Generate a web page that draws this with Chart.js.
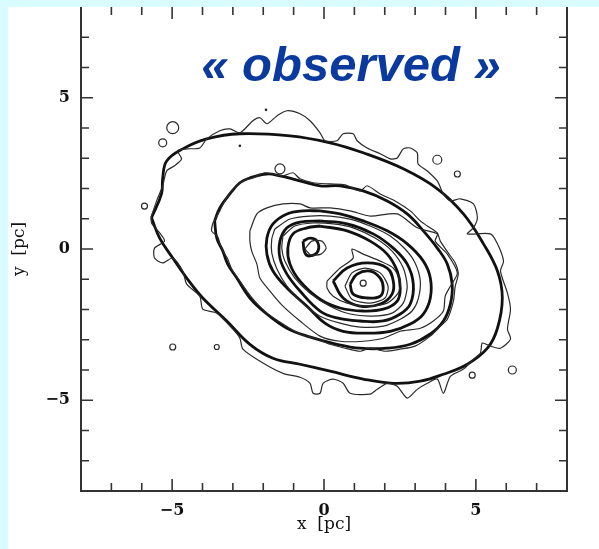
<!DOCTYPE html>
<html>
<head>
<meta charset="utf-8">
<script src="https://cdn.jsdelivr.net/npm/chart.js@4/dist/chart.umd.min.js"></script>
<style>
  html, body { margin: 0; padding: 0; background: #d8fcff; width: 599px; height: 549px; overflow: hidden; }
  #plot { position: absolute; left: 8px; top: 7px; background: #ffffff; }
</style>
</head>
<body>
<canvas id="plot" width="591" height="542"></canvas>
<script>
// tick positions and labels (pc)
const tickValues = [-5, 0, 5];
const minorTicks = [-7, -6, -5, -4, -3, -2, -1, 0, 1, 2, 3, 4, 5, 6, 7];
const titleText = '\u00ab observed \u00bb';

// model isophotes (thick), outermost first
const modelA = [[-5.68,1.03],[-5.41,0.36],[-4.98,-0.30],[-4.52,-0.96],[-3.99,-1.62],[-3.20,-2.38],[-2.44,-3.15],[-1.68,-3.61],
  [-0.79,-3.81],[0.20,-4.04],[1.29,-4.30],[2.28,-4.44],[3.17,-4.37],[3.93,-4.14],[4.72,-3.81],[5.38,-3.28],[5.71,-2.62],
  [5.87,-1.62],[5.71,-0.73],[5.25,0.17],[4.59,1.16],[3.73,1.99],[2.61,2.65],[1.29,3.18],[0.20,3.51],[-1.12,3.74],
  [-2.77,3.81],[-3.86,3.64],[-4.65,3.31],[-5.18,2.91],[-5.31,2.35],[-5.35,1.82]];
const modelB = [[-3.60,0.93],[-3.53,0.36],[-3.33,-0.07],[-3.17,-0.50],[-2.87,-0.96],[-2.44,-1.62],[-1.88,-2.15],[-1.22,-2.62],
  [-0.56,-2.88],[0.43,-3.15],[1.19,-3.28],[2.08,-3.28],[2.84,-3.15],[3.50,-2.81],[3.93,-2.38],[4.16,-1.82],[4.22,-1.16],
  [4.06,-0.50],[3.73,0.03],[3.27,0.60],[2.74,1.16],[2.08,1.59],[1.29,1.92],[0.53,2.09],[-0.13,2.09],[-0.89,2.28],
  [-1.45,2.42],[-1.88,2.48],[-2.44,2.35],[-2.77,2.19],[-3.10,1.82],[-3.43,1.36]];
const modelC = [[-0.13,1.26],[0.53,1.16],[1.29,0.93],[2.08,0.60],[2.74,0.17],[3.27,-0.40],[3.50,-0.96],[3.50,-1.62],
  [3.27,-2.15],[2.84,-2.48],[2.18,-2.72],[1.42,-2.78],[0.63,-2.72],[0.03,-2.45],[-0.56,-1.89],[-1.22,-1.29],[-1.68,-0.73],
  [-1.88,-0.17],[-1.88,0.36],[-1.68,0.83],[-1.22,1.16],[-0.69,1.26]];
const modelD = [[-0.13,0.93],[0.76,0.83],[1.62,0.50],[2.28,0.03],[2.74,-0.50],[2.94,-1.16],[2.84,-1.82],[2.51,-2.15],
  [1.95,-2.38],[1.19,-2.38],[0.43,-2.28],[-0.13,-2.05],[-0.79,-1.39],[-1.22,-0.83],[-1.45,-0.30],[-1.45,0.26],
  [-1.22,0.70],[-0.79,0.89]];
const modelE = [[-0.13,0.76],[0.76,0.60],[1.52,0.26],[2.08,-0.17],[2.41,-0.73],[2.51,-1.29],[2.41,-1.72],[1.95,-1.99],
  [1.29,-2.05],[0.53,-1.95],[-0.13,-1.66],[-0.79,-1.06],[-1.12,-0.50],[-1.19,0.03],[-1.02,0.50],[-0.56,0.70]];
const modelF = [[0.30,-1.06],[0.76,-0.63],[1.42,-0.46],[2.08,-0.63],[2.28,-1.06],[2.24,-1.49],[1.85,-1.82],[1.19,-1.89],[0.63,-1.62]];
const modelG = [[0.86,-1.16],[1.09,-0.83],[1.52,-0.73],[1.85,-0.96],[1.95,-1.29],[1.85,-1.56],[1.42,-1.62],[0.96,-1.49]];
const modelH = [[-0.69,0.26],[-0.46,0.36],[-0.23,0.26],[-0.20,-0.07],[-0.46,-0.23],[-0.63,-0.13]];

// observed isophotes (thin)
const obsA = [[-5.68,1.09],[-5.51,1.59],[-5.31,2.09],[-5.18,2.58],[-4.92,2.75],[-4.69,2.98],[-4.82,3.25],[-4.52,3.31],
  [-4.09,3.34],[-3.86,3.64],[-3.43,3.91],[-3.10,3.97],[-2.77,3.84],[-2.34,4.24],[-2.11,4.34],[-1.88,4.14],[-1.55,4.40],
  [-1.22,4.57],[-0.79,4.47],[-0.46,4.24],[-0.13,3.84],[0.03,3.58],[0.43,3.58],[0.63,3.81],[0.96,3.81],[1.09,3.58],
  [1.42,3.34],[1.85,3.15],[2.18,2.98],[2.41,3.01],[2.61,3.31],[2.84,3.34],[3.07,3.18],[3.10,2.81],[3.40,2.58],
  [3.73,2.25],[3.93,1.82],[4.16,1.59],[4.49,1.66],[4.92,1.49],[5.05,1.03],[4.92,0.70],[4.72,0.50],[5.48,0.50],
  [5.71,0.17],[5.91,-0.40],[5.81,-0.73],[6.04,-1.46],[6.14,-1.99],[6.04,-2.65],[6.14,-2.98],[5.81,-3.28],[5.48,-3.21],
  [5.21,-3.11],[5.15,-3.44],[4.92,-3.64],[4.59,-3.97],[4.16,-4.21],[3.93,-4.77],[3.73,-4.30],[3.40,-4.44],[3.07,-4.64],
  [2.74,-4.93],[2.41,-4.54],[2.08,-4.44],[1.75,-4.64],[1.52,-4.80],[0.86,-4.77],[0.63,-4.44],[0.30,-4.30],[-0.03,-4.44],
  [-0.13,-4.77],[-0.36,-4.77],[-0.46,-4.44],[-0.79,-4.24],[-1.35,-4.11],[-2.01,-3.77],[-2.67,-3.31],[-2.77,-2.95],
  [-3.00,-2.65],[-3.53,-2.12],[-3.99,-1.99],[-4.09,-1.56],[-4.52,-1.16],[-4.65,-0.73],[-4.98,-0.30],[-5.31,-0.46],
  [-5.58,-0.30],[-5.58,0.03],[-5.25,0.26],[-5.41,0.53],[-5.68,0.86]];
const obsB = [[-3.66,0.86],[-3.43,1.26],[-3.27,1.59],[-3.04,1.92],[-2.67,2.25],[-2.34,2.35],[-1.95,2.52],[-1.35,2.42],
  [-1.02,2.52],[-0.79,2.32],[-0.36,2.19],[0.20,2.15],[0.69,2.12],[1.19,1.92],[1.42,2.09],[1.85,1.82],[2.34,1.59],
  [2.84,1.26],[3.17,0.93],[3.40,0.76],[3.73,0.53],[3.83,0.26],[4.09,-0.13],[4.32,-0.46],[4.42,-0.83],[4.32,-1.23],
  [4.26,-1.72],[4.06,-2.32],[3.83,-2.55],[3.50,-2.88],[3.00,-3.21],[2.51,-3.31],[2.01,-3.38],[1.52,-3.28],[1.19,-3.38],
  [0.69,-3.28],[0.20,-3.15],[-0.30,-2.95],[-0.79,-2.81],[-1.35,-2.48],[-1.88,-2.12],[-2.28,-1.72],[-2.54,-1.39],
  [-2.77,-1.06],[-3.04,-0.66],[-3.17,-0.33],[-3.37,0.00],[-3.50,0.40],[-3.70,0.60]];
const obsC = [[-2.44,0.60],[-2.21,1.16],[-1.88,1.36],[-1.35,1.49],[-0.79,1.49],[-0.46,1.36],[0.20,1.36],[0.86,1.26],
  [1.52,1.09],[2.41,1.16],[3.07,0.70],[3.73,0.50],[3.66,0.26],[4.06,-0.17],[4.39,-0.79],[4.16,-1.23],[3.99,-1.56],
  [3.93,-2.05],[3.60,-2.38],[3.17,-2.62],[2.51,-2.72],[1.95,-2.95],[1.29,-3.05],[0.53,-3.05],[-0.13,-2.88],[-0.79,-2.38],
  [-1.35,-1.89],[-1.78,-1.39],[-2.11,-0.96],[-2.21,-0.50],[-2.38,-0.07],[-2.44,0.26]];
const obsD = [[-1.62,0.66],[-1.12,0.99],[-0.46,1.09],[0.20,1.09],[0.86,0.99],[1.52,0.76],[2.18,0.43],[2.67,0.00],
  [3.00,-0.46],[3.17,-1.06],[3.10,-1.66],[2.90,-2.05],[2.51,-2.32],[1.95,-2.55],[1.19,-2.58],[0.53,-2.45],[-0.13,-2.22],
  [-0.79,-1.72],[-1.22,-1.23],[-1.55,-0.66],[-1.72,-0.13],[-1.72,0.33]];
const obsE = [[-1.35,0.43],[-0.96,0.76],[-0.36,0.86],[0.30,0.83],[0.96,0.70],[1.68,0.36],[2.24,-0.07],[2.61,-0.63],
  [2.74,-1.23],[2.61,-1.79],[2.24,-2.12],[1.58,-2.22],[0.86,-2.15],[0.20,-1.89],[-0.46,-1.46],[-0.96,-0.96],[-1.29,-0.40],[-1.39,0.03]];
const obsF = [[0.10,-1.06],[0.53,-0.63],[0.96,-0.30],[0.92,0.00],[1.29,-0.17],[1.85,-0.40],[2.28,-0.63],[2.51,-1.06],
  [2.44,-1.46],[2.08,-1.79],[1.42,-1.89],[0.76,-1.79],[0.30,-1.56],[0.10,-1.29]];
const obsG = [[0.69,-1.23],[0.92,-0.79],[1.35,-0.63],[1.85,-0.79],[2.11,-1.23],[2.01,-1.62],[1.52,-1.79],[0.92,-1.66]];
const obsH = [[-0.63,0.00],[-0.40,0.26],[-0.07,0.26],[0.07,0.03],[-0.10,-0.17],[-0.43,-0.20]];

// small isolated contours: centre and radius (px)
const islandPos = [[-4.98,4.01],[-5.31,3.51],[-5.91,1.42],[-4.98,-3.24],[-3.53,-3.24],[3.73,2.95],[4.39,2.48],
  [4.88,-4.17],[6.20,-4.00],[-1.45,2.65],[1.29,-1.13]];
const islandSize = [6, 4, 3, 3, 2.5, 4.5, 3, 3, 4, 5, 3];
const specks = [[-1.91,4.60],[-2.77,3.41]];

function toPoints(arr, close) {
  var pts = arr.map(p => ({x: p[0], y: p[1]}));
  if (close) pts.push({x: arr[0][0], y: arr[0][1]});
  return pts;
}

function contour(arr, thick) {
  return {
    type: 'scatter',
    data: toPoints(arr, true),
    showLine: true,
    pointRadius: 0,
    borderColor: thick ? '#111111' : '#2a2a2a',
    borderWidth: thick ? 2.8 : 1.2,
    tension: thick ? 0.4 : 0.25,
    fill: false
  };
}

var datasets = [];
[obsA, obsB, obsC, obsD, obsE, obsF, obsG, obsH].forEach(c => datasets.push(contour(c, false)));
[modelA, modelB, modelC, modelD, modelE, modelF, modelG, modelH].forEach(c => datasets.push(contour(c, true)));
datasets.push({
  type: 'scatter',
  data: toPoints(islandPos, false),
  pointRadius: islandSize,
  pointStyle: 'circle',
  backgroundColor: 'rgba(0,0,0,0)',
  borderColor: '#2a2a2a',
  borderWidth: 1.2
});
datasets.push({
  type: 'scatter',
  data: toPoints(specks, false),
  pointRadius: 1.3,
  backgroundColor: '#222',
  borderWidth: 0
});

// frame with inward ticks on all four sides
const framePlugin = {
  id: 'frame',
  afterDraw: function (chart) {
    const ctx = chart.ctx;
    const a = chart.chartArea;
    const xs = chart.scales.x;
    const ys = chart.scales.y;
    ctx.save();
    ctx.strokeStyle = '#333333';
    ctx.lineWidth = 2;
    ctx.beginPath();
    ctx.moveTo(a.left, a.top);
    ctx.lineTo(a.left, a.bottom);
    ctx.lineTo(a.right, a.bottom);
    ctx.lineTo(a.right, a.top);
    ctx.stroke();

    ctx.lineWidth = 1.6;
    ctx.beginPath();
    minorTicks.forEach(v => {
      const len = (v % 5 === 0) ? 12 : 8;
      const px = xs.getPixelForValue(v);
      const py = ys.getPixelForValue(v);
      ctx.moveTo(px, a.bottom); ctx.lineTo(px, a.bottom - len);
      ctx.moveTo(px, a.top); ctx.lineTo(px, a.top + len);
      ctx.moveTo(a.left, py); ctx.lineTo(a.left + len, py);
      ctx.moveTo(a.right, py); ctx.lineTo(a.right - len, py);
    });
    ctx.stroke();

    // heading inside the plot
    ctx.fillStyle = '#0a3a9e';
    ctx.font = 'italic bold 49px "Liberation Sans", Arial, sans-serif';
    ctx.textAlign = 'center';
    ctx.textBaseline = 'alphabetic';
    ctx.fillText(titleText, xs.getPixelForValue(0.89), ys.getPixelForValue(5.56));
    ctx.restore();
  }
};

function tickLabel(v) {
  return v < 0 ? '\u2212' + (-v) : '' + v;
}

const axisFont = {family: '"DejaVu Serif", "Liberation Serif", serif', size: 16, weight: 'bold'};
const titleFont = {family: '"DejaVu Serif", "Liberation Serif", serif', size: 17};

new Chart(document.getElementById('plot'), {
  type: 'scatter',
  data: {datasets: datasets},
  options: {
    responsive: false,
    animation: false,
    events: [],
    layout: {autoPadding: false, padding: {left: 0, top: 0, right: 32, bottom: 0}},
    plugins: {legend: {display: false}, tooltip: {enabled: false}},
    scales: {
      x: {
        type: 'linear', min: -8, max: 8, position: 'bottom',
        grid: {display: false, drawTicks: false},
        border: {display: false},
        afterBuildTicks: s => { s.ticks = tickValues.map(v => ({value: v})); },
        afterFit: s => { s.height = 58; s.paddingLeft = 0; s.paddingRight = 0; },
        ticks: {font: axisFont, color: '#111', padding: 10, callback: tickLabel},
        title: {display: true, text: 'x  [pc]', font: titleFont, color: '#111', padding: {top: 0, bottom: 14}}
      },
      y: {
        type: 'linear', min: -8, max: 8, position: 'left',
        grid: {display: false, drawTicks: false},
        border: {display: false},
        afterBuildTicks: s => { s.ticks = tickValues.map(v => ({value: v})); },
        afterFit: s => { s.width = 73; s.paddingTop = 0; s.paddingBottom = 0; },
        ticks: {font: axisFont, color: '#111', padding: 11, callback: tickLabel},
        title: {display: true, text: 'y  [pc]', font: titleFont, color: '#111', padding: {top: 1, bottom: 0}}
      }
    }
  },
  plugins: [framePlugin]
});
</script>
</body>
</html>
